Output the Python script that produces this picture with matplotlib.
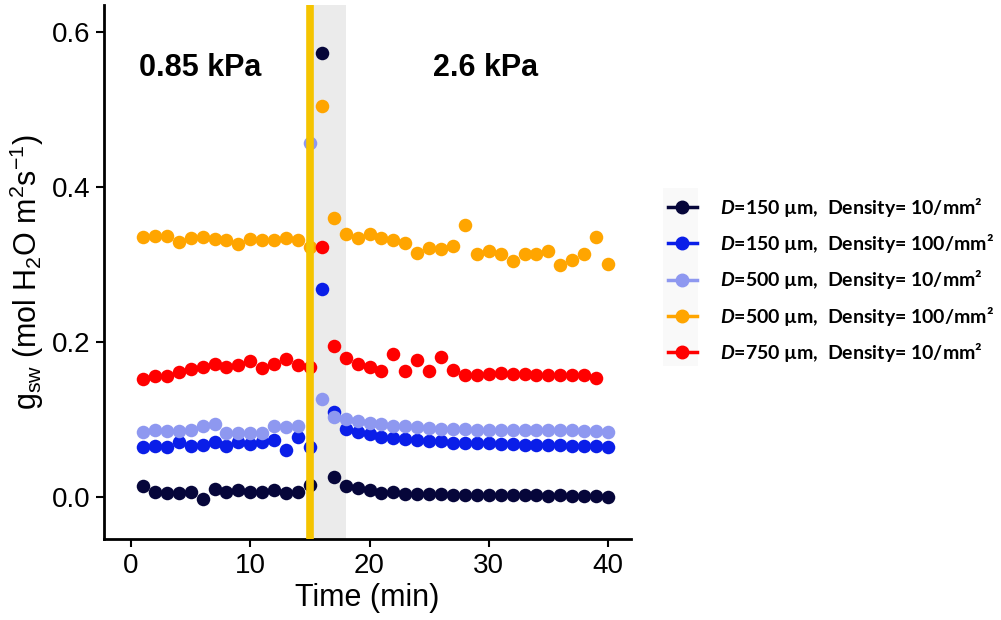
import matplotlib
matplotlib.use("Agg")
import matplotlib.pyplot as plt
from matplotlib.lines import Line2D
from matplotlib.patches import Rectangle

plt.rcParams['font.family'] = ['Liberation Sans', 'DejaVu Sans']
plt.rcParams['mathtext.fontset'] = 'custom'
plt.rcParams['mathtext.sf'] = 'Liberation Sans'
plt.rcParams['mathtext.it'] = 'Lato:style=italic:weight=bold'
plt.rcParams['mathtext.rm'] = 'Lato:weight=bold'

time = [1, 2, 3, 4, 5, 6, 7, 8, 9, 10, 11, 12, 13, 14, 15, 16, 17, 18, 19, 20,
        21, 22, 23, 24, 25, 26, 27, 28, 29, 30, 31, 32, 33, 34, 35, 36, 37, 38, 39, 40]

d150_n10 = [0.014, 0.007, 0.005, 0.005, 0.006, -0.003, 0.010, 0.006, 0.009, 0.006,
            0.007, 0.009, 0.005, 0.006, 0.015, 0.573, 0.026, 0.014, 0.012, 0.009,
            0.005, 0.006, 0.004, 0.004, 0.004, 0.004, 0.003, 0.003, 0.002, 0.003,
            0.002, 0.002, 0.002, 0.002, 0.001, 0.002, 0.001, 0.001, 0.001, 0.000]

d150_n100 = [0.065, 0.066, 0.064, 0.071, 0.066, 0.067, 0.071, 0.066, 0.071, 0.068,
             0.071, 0.073, 0.060, 0.078, 0.065, 0.268, 0.110, 0.088, 0.084, 0.081,
             0.078, 0.076, 0.075, 0.073, 0.072, 0.072, 0.070, 0.070, 0.069, 0.069,
             0.068, 0.068, 0.067, 0.067, 0.067, 0.067, 0.066, 0.066, 0.066, 0.065]

d500_n10 = [0.084, 0.087, 0.085, 0.085, 0.087, 0.091, 0.094, 0.082, 0.083, 0.082,
            0.083, 0.092, 0.090, 0.092, 0.457, 0.127, 0.103, 0.101, 0.098, 0.096,
            0.094, 0.092, 0.092, 0.090, 0.089, 0.088, 0.088, 0.088, 0.087, 0.087,
            0.087, 0.087, 0.087, 0.087, 0.086, 0.086, 0.086, 0.085, 0.085, 0.084]

d500_n100 = [0.335, 0.337, 0.337, 0.329, 0.334, 0.336, 0.333, 0.331, 0.327, 0.333,
             0.331, 0.332, 0.334, 0.331, 0.322, 0.505, 0.360, 0.340, 0.334, 0.340,
             0.334, 0.331, 0.328, 0.315, 0.321, 0.320, 0.324, 0.351, 0.313, 0.317,
             0.314, 0.305, 0.313, 0.313, 0.318, 0.300, 0.306, 0.313, 0.335, 0.301]

d750_n10 = [0.152, 0.156, 0.156, 0.161, 0.165, 0.168, 0.172, 0.168, 0.170, 0.176,
            0.166, 0.171, 0.178, 0.170, 0.168, 0.322, 0.195, 0.179, 0.172, 0.168,
            0.163, 0.184, 0.162, 0.177, 0.163, 0.180, 0.164, 0.157, 0.157, 0.159,
            0.160, 0.159, 0.159, 0.157, 0.157, 0.157, 0.157, 0.157, 0.153]

series = [
    (d150_n10, '#06063A', r'$\mathit{D}$=150 µm,  Density= 10/mm²'),
    (d150_n100, '#0A1EE8', r'$\mathit{D}$=150 µm,  Density= 100/mm²'),
    (d500_n10, '#8E98F0', r'$\mathit{D}$=500 µm,  Density= 10/mm²'),
    (d500_n100, '#FFA500', r'$\mathit{D}$=500 µm,  Density= 100/mm²'),
    (d750_n10, '#FF0000', r'$\mathit{D}$=750 µm,  Density= 10/mm²'),
]

switch_time = 15
band_end = 18

fig = plt.figure(figsize=(10.01, 6.2), dpi=100)
ax = fig.add_axes([0.104, 0.131, 0.526, 0.861])

# faint legend-key background
fig.patches.append(Rectangle((663 / 1001, 1 - 366 / 620), 35 / 1001, 178 / 620,
                             transform=fig.transFigure, facecolor='#F9F9F9',
                             edgecolor='none', zorder=0))

ax.axvspan(switch_time, band_end, color='#EBEBEB', zorder=0, lw=0)

handles = []
for vals, col, lab in series:
    ax.scatter(time[:len(vals)], vals, s=95, color=col, zorder=3, linewidths=0)
    handles.append(Line2D([0], [0], color=col, lw=2.5, marker='o', markersize=9,
                          label=lab))

ax.axvline(switch_time, color='#F5C400', lw=5.5, zorder=4)

ax.text(5.8, 0.554, '0.85 kPa', fontsize=22, fontweight='bold', ha='center', va='center')
ax.text(29.7, 0.554, '2.6 kPa', fontsize=22, fontweight='bold', ha='center', va='center')

ax.set_xlim(-2.26, 41.9)
ax.set_ylim(-0.054, 0.635)
ax.set_xticks([0, 10, 20, 30, 40])
ax.set_yticks([0.0, 0.2, 0.4, 0.6])
ax.set_yticklabels(['0.0', '0.2', '0.4', '0.6'])
ax.tick_params(labelsize=20, length=6, width=1.5, colors='black', pad=4)
for s in ['top', 'right']:
    ax.spines[s].set_visible(False)
for s in ['left', 'bottom']:
    ax.spines[s].set_linewidth(2)

ax.set_xlabel('Time (min)', fontsize=22, labelpad=3)
ax.set_ylabel(r'$\mathsf{g_{sw}\ (mol\ H_2O\ m^2s^{-1})}$', fontsize=22, labelpad=4)

leg = fig.legend(handles=handles, loc='upper left', bbox_to_anchor=(0.667, 0.684),
                 frameon=False, prop={'family': 'Lato', 'weight': 'bold', 'size': 14},
                 handlelength=1.5, handletextpad=1.2, labelspacing=0.68,
                 borderaxespad=0, borderpad=0)

fig.savefig('out.png', dpi=100)
